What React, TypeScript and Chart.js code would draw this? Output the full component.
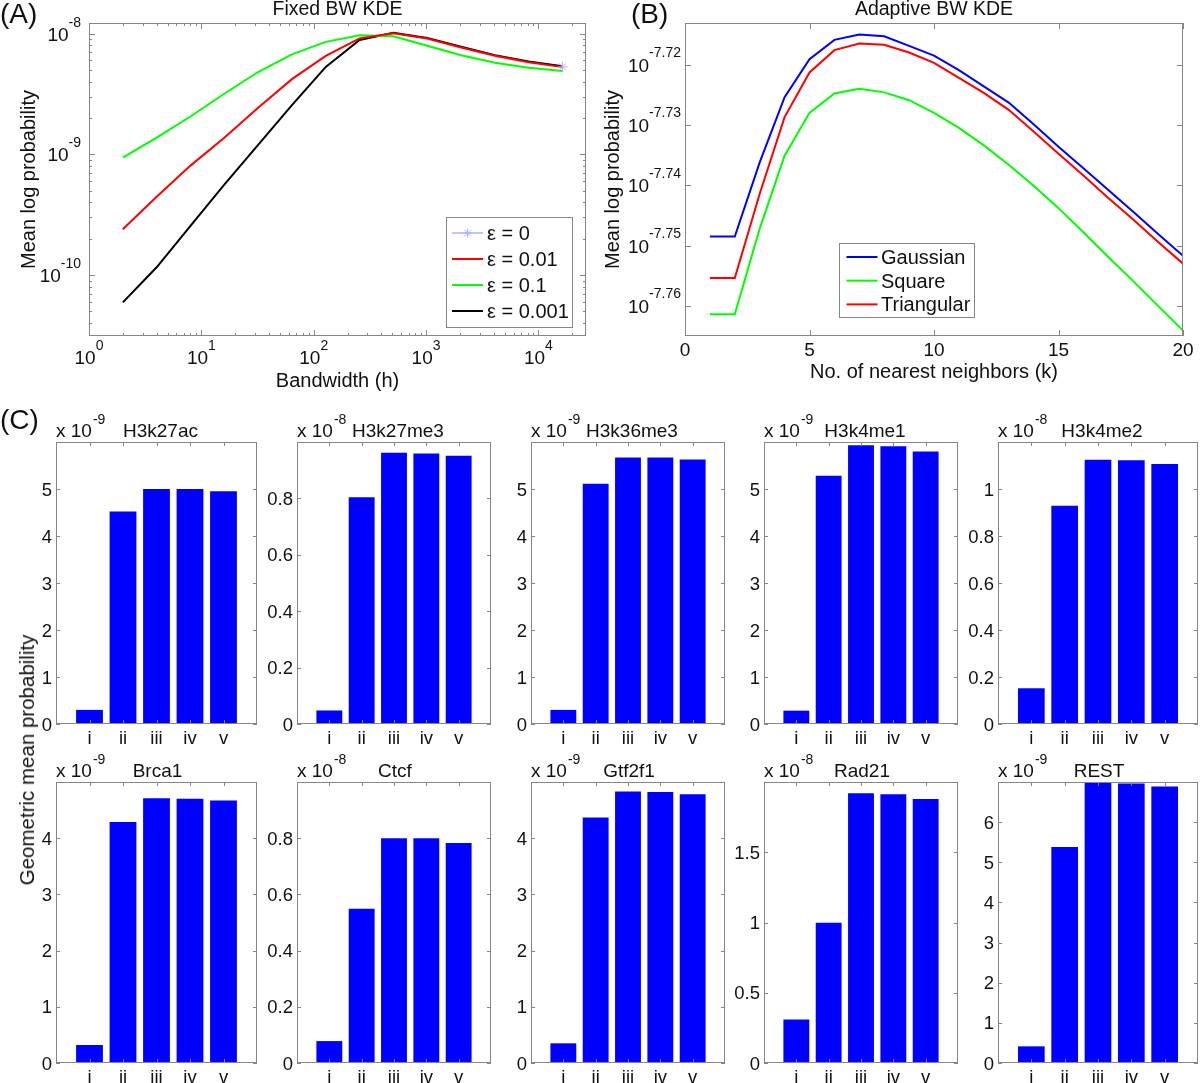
import React, { useEffect, useRef } from 'react';
import { Chart, registerables } from 'chart.js';

Chart.register(...registerables);

const FONT_FAMILY = '"Liberation Sans", Arial, Helvetica, sans-serif';
const AXIS_COLOR = '#868686';
const TEXT_COLOR = '#111111';

// ---------------- Panel A data (Fixed BW KDE) ----------------
const aBandwidths = [2, 4, 8, 16, 32, 64, 128, 256, 512, 1024, 2048, 4096, 8192, 16384];
const aEps0Bandwidths = [16384];
const aEps0Values = [5.3e-9];
const aEps001Values = [2.4e-10, 4.45e-10, 8.07e-10, 1.37e-9, 2.43e-9, 4.2e-9, 6.55e-9, 9.14e-9, 1.009e-8, 9.12e-9, 7.69e-9, 6.56e-9, 5.79e-9, 5.28e-9];
const aEps01Values = [9.38e-10, 1.374e-9, 2.06e-9, 3.18e-9, 4.81e-9, 6.73e-9, 8.55e-9, 9.7e-9, 9.53e-9, 7.94e-9, 6.62e-9, 5.75e-9, 5.22e-9, 4.9e-9];
const aEps0001Values = [5.94e-11, 1.16e-10, 2.56e-10, 5.62e-10, 1.2e-9, 2.56e-9, 5.3e-9, 8.85e-9, 1.016e-8, 9.2e-9, 7.8e-9, 6.64e-9, 5.87e-9, 5.37e-9];
const aLegendLabels = ['ε = 0', 'ε = 0.01', 'ε = 0.1', 'ε = 0.001'];
const aXTicks = [1, 10, 100, 1000, 10000];
const aXTickExponents = ['0', '1', '2', '3', '4'];
const aYTicks = [1e-10, 1e-9, 1e-8];
const aYTickExponents = ['-10', '-9', '-8'];
const aXRange = [1, 26500];
const aYRange = [3.13e-11, 1.225e-8];
const aTitle = 'Fixed BW KDE';
const aXLabel = 'Bandwidth (h)';
const aYLabel = 'Mean log probability';

// ---------------- Panel B data (Adaptive BW KDE), log10 of probability ----------------
const bNeighbors = [1, 2, 3, 4, 5, 6, 7, 8, 9, 10, 11, 12, 13, 14, 15, 16, 17, 18, 19, 20];
const bGaussianLog10 = [-7.7485, -7.7485, -7.7362, -7.7254, -7.7191, -7.7159, -7.715, -7.7153, -7.7169, -7.7185, -7.7209, -7.7236, -7.7263, -7.7299, -7.7336, -7.7372, -7.7408, -7.7444, -7.7481, -7.7517];
const bSquareLog10 = [-7.7614, -7.7614, -7.7472, -7.7351, -7.728, -7.7248, -7.724, -7.7246, -7.7259, -7.728, -7.7305, -7.7334, -7.7366, -7.7401, -7.7438, -7.7478, -7.7519, -7.7559, -7.76, -7.7641];
const bTriangularLog10 = [-7.7554, -7.7554, -7.7414, -7.7287, -7.7213, -7.7176, -7.7165, -7.7167, -7.718, -7.7197, -7.7222, -7.7247, -7.7275, -7.7311, -7.7348, -7.7384, -7.7421, -7.7457, -7.7494, -7.753];
const bLegendLabels = ['Gaussian', 'Square', 'Triangular'];
const bXTicks = [0, 5, 10, 15, 20];
const bYTicks = [-7.76, -7.75, -7.74, -7.73, -7.72];
const bYTickExponents = ['-7.76', '-7.75', '-7.74', '-7.73', '-7.72'];
const bXRange = [0, 20];
const bYRange = [-7.765, -7.7131];
const bTitle = 'Adaptive BW KDE';
const bXLabel = 'No. of nearest neighbors (k)';
const bYLabel = 'Mean log probability';

// ---------------- Panel C data (bar charts) ----------------
const cCategories = ['i', 'ii', 'iii', 'iv', 'v'];
const cPositions = [1, 2, 3, 4, 5];
const cNames = ['H3k27ac', 'H3k27me3', 'H3k36me3', 'H3k4me1', 'H3k4me2', 'Brca1', 'Ctcf', 'Gtf2f1', 'Rad21', 'REST'];
const cExponents = ['-9', '-8', '-9', '-9', '-8', '-9', '-8', '-9', '-8', '-9'];
const h3k27acValues = [0.3, 4.52, 5.0, 5.0, 4.95];
const h3k27me3Values = [0.048, 0.804, 0.962, 0.959, 0.951];
const h3k36me3Values = [0.3, 5.11, 5.67, 5.67, 5.63];
const h3k4me1Values = [0.284, 5.28, 5.93, 5.91, 5.8];
const h3k4me2Values = [0.152, 0.929, 1.125, 1.122, 1.106];
const brca1Values = [0.32, 4.29, 4.71, 4.7, 4.67];
const ctcfValues = [0.078, 0.549, 0.8, 0.8, 0.783];
const gtf2f1Values = [0.35, 4.37, 4.83, 4.82, 4.78];
const rad21Values = [0.31, 0.998, 1.92, 1.912, 1.879];
const restValues = [0.415, 5.38, 6.99, 6.96, 6.89];
const cValues = [h3k27acValues, h3k27me3Values, h3k36me3Values, h3k4me1Values, h3k4me2Values, brca1Values, ctcfValues, gtf2f1Values, rad21Values, restValues];
const cYTicks = [
  [0, 1, 2, 3, 4, 5],
  [0, 0.2, 0.4, 0.6, 0.8],
  [0, 1, 2, 3, 4, 5],
  [0, 1, 2, 3, 4, 5],
  [0, 0.2, 0.4, 0.6, 0.8, 1],
  [0, 1, 2, 3, 4],
  [0, 0.2, 0.4, 0.6, 0.8],
  [0, 1, 2, 3, 4],
  [0, 0.5, 1, 1.5],
  [0, 1, 2, 3, 4, 5, 6],
];
const cYMax = [6, 1, 6, 6, 1.2, 5, 1, 5, 2, 7];
const cYLabel = 'Geometric mean probability';

// ---------------- Layout (page pixels) ----------------
const A_CANVAS = { left: 0, top: 0, width: 600, height: 400 };
const A_BOX = { left: 89, top: 23, right: 586, bottom: 336 };
const B_CANVAS = { left: 600, top: 0, width: 600, height: 400 };
const B_BOX = { left: 685, top: 23, right: 1183, bottom: 336 };
const C_COLUMNS = [[56, 257], [297, 491], [531, 725], [764, 958], [998, 1198]];
const C_ROWS = [[442, 724], [782, 1063]];

function paddingFor(canvas: any, box: any) {
  return {
    left: box.left - canvas.left,
    top: box.top - canvas.top,
    right: canvas.left + canvas.width - box.right,
    bottom: canvas.top + canvas.height - box.bottom,
  };
}

function font(size: number) {
  return `${size}px ${FONT_FAMILY}`;
}

function strokeFrame(ctx: any, a: any) {
  const l = Math.round(a.left) + 0.5;
  const t = Math.round(a.top) + 0.5;
  const r = Math.round(a.right) - 0.5;
  const b = Math.round(a.bottom) - 0.5;
  ctx.strokeStyle = AXIS_COLOR;
  ctx.lineWidth = 1;
  ctx.strokeRect(l, t, r - l, b - t);
}

function tickMarksX(ctx: any, scale: any, a: any, values: number[], len: number) {
  ctx.strokeStyle = AXIS_COLOR;
  ctx.lineWidth = 1;
  ctx.beginPath();
  values.forEach((v) => {
    const p = Math.round(scale.getPixelForValue(v)) + 0.5;
    ctx.moveTo(p, a.bottom);
    ctx.lineTo(p, a.bottom - len);
    ctx.moveTo(p, a.top);
    ctx.lineTo(p, a.top + len);
  });
  ctx.stroke();
}

function tickMarksY(ctx: any, scale: any, a: any, values: number[], len: number) {
  ctx.strokeStyle = AXIS_COLOR;
  ctx.lineWidth = 1;
  ctx.beginPath();
  values.forEach((v) => {
    const p = Math.round(scale.getPixelForValue(v)) + 0.5;
    ctx.moveTo(a.left, p);
    ctx.lineTo(a.left + len, p);
    ctx.moveTo(a.right, p);
    ctx.lineTo(a.right - len, p);
  });
  ctx.stroke();
}

function drawPower(ctx: any, exponent: string, x: number, baseline: number, align: string, baseSize: number, supSize: number, raise: number) {
  ctx.font = font(baseSize);
  const wb = ctx.measureText('10').width;
  ctx.font = font(supSize);
  const ws = ctx.measureText(exponent).width;
  const total = wb + ws;
  const x0 = align === 'center' ? x - total / 2 : x - total;
  ctx.fillStyle = TEXT_COLOR;
  ctx.textAlign = 'left';
  ctx.textBaseline = 'alphabetic';
  ctx.font = font(baseSize);
  ctx.fillText('10', x0, baseline);
  ctx.font = font(supSize);
  ctx.fillText(exponent, x0 + wb, baseline - raise);
}

function drawText(ctx: any, s: string, x: number, y: number, size: number, align: string) {
  ctx.fillStyle = TEXT_COLOR;
  ctx.font = font(size);
  ctx.textAlign = align;
  ctx.textBaseline = 'alphabetic';
  ctx.fillText(s, x, y);
}

function drawRotated(ctx: any, s: string, cx: number, cy: number, size: number) {
  ctx.save();
  ctx.translate(cx, cy);
  ctx.rotate(-Math.PI / 2);
  ctx.fillStyle = TEXT_COLOR;
  ctx.font = font(size);
  ctx.textAlign = 'center';
  ctx.textBaseline = 'middle';
  ctx.fillText(s, 0, 0);
  ctx.restore();
}

function drawStar(ctx: any, x: number, y: number, r: number, color: string) {
  ctx.strokeStyle = color;
  ctx.lineWidth = 1;
  ctx.beginPath();
  for (let k = 0; k < 4; k++) {
    const ang = (k * Math.PI) / 4;
    ctx.moveTo(x - r * Math.cos(ang), y - r * Math.sin(ang));
    ctx.lineTo(x + r * Math.cos(ang), y + r * Math.sin(ang));
  }
  ctx.stroke();
}

function drawLegend(ctx: any, chart: any, L: any) {
  ctx.fillStyle = '#ffffff';
  ctx.fillRect(L.left, L.top, L.right - L.left, L.bottom - L.top);
  ctx.strokeStyle = AXIS_COLOR;
  ctx.lineWidth = 1;
  ctx.strokeRect(Math.round(L.left) + 0.5, Math.round(L.top) + 0.5, Math.round(L.right - L.left), Math.round(L.bottom - L.top));
  chart.data.datasets.forEach((ds: any, i: number) => {
    const y = L.firstRow + i * L.rowStep;
    ctx.strokeStyle = ds.borderColor;
    ctx.lineWidth = ds.legendLineWidth || 2;
    ctx.beginPath();
    ctx.moveTo(L.lineStart, y);
    ctx.lineTo(L.lineEnd, y);
    ctx.stroke();
    if (ds.pointStyle === 'star') drawStar(ctx, (L.lineStart + L.lineEnd) / 2, y, 4.5, ds.borderColor);
    drawText(ctx, ds.label, L.textX, y + 7, L.fontSize, 'left');
  });
}

// ---------------- Panel A ----------------
const A_LEGEND = { left: 446, top: 217, right: 572, bottom: 327, firstRow: 233, rowStep: 26, lineStart: 452, lineEnd: 483, textX: 487, fontSize: 20 };

function drawPanelA(chart: any) {
  const ctx = chart.ctx;
  const a = chart.chartArea;
  const xs = chart.scales.x;
  const ys = chart.scales.y;
  ctx.save();
  const xMinor: number[] = [];
  for (let d = 1; d <= 10000; d *= 10) for (let m = 2; m <= 9; m++) if (d * m < xs.max) xMinor.push(d * m);
  const yMinor: number[] = [];
  for (let e = -11; e <= -9; e++) for (let m = 2; m <= 9; m++) {
    const v = m * Math.pow(10, e);
    if (v > ys.min && v < ys.max) yMinor.push(v);
  }
  tickMarksX(ctx, xs, a, aXTicks, 6);
  tickMarksX(ctx, xs, a, xMinor, 3);
  tickMarksY(ctx, ys, a, aYTicks, 6);
  tickMarksY(ctx, ys, a, yMinor, 3);
  strokeFrame(ctx, a);
  aXTicks.forEach((v, i) => drawPower(ctx, aXTickExponents[i], xs.getPixelForValue(v), a.bottom + 28, 'center', 19, 14, 14));
  aYTicks.forEach((v, i) => drawPower(ctx, aYTickExponents[i], a.left - 8, ys.getPixelForValue(v) + 7, 'right', 19, 14, 14));
  drawText(ctx, aTitle, (a.left + a.right) / 2, 15, 19.5, 'center');
  drawText(ctx, aXLabel, (a.left + a.right) / 2, 386.5, 20, 'center');
  drawRotated(ctx, aYLabel, 29, (a.top + a.bottom) / 2, 20);
  drawLegend(ctx, chart, A_LEGEND);
  ctx.restore();
}

function buildPanelA() {
  return {
    type: 'line',
    data: {
      datasets: [
        {
          label: aLegendLabels[0],
          data: aEps0Bandwidths.map((x, i) => ({ x, y: aEps0Values[i] })),
          borderColor: '#aeb0ff',
          backgroundColor: '#aeb0ff',
          borderWidth: 1,
          legendLineWidth: 1.5,
          pointStyle: 'star',
          pointRadius: 5,
          pointBorderWidth: 1,
          pointBorderColor: '#aeb0ff',
        },
        { label: aLegendLabels[1], data: aBandwidths.map((x, i) => ({ x, y: aEps001Values[i] })), borderColor: '#ff0000', borderWidth: 2, pointRadius: 0 },
        { label: aLegendLabels[2], data: aBandwidths.map((x, i) => ({ x, y: aEps01Values[i] })), borderColor: '#00ff00', borderWidth: 2, pointRadius: 0 },
        { label: aLegendLabels[3], data: aBandwidths.map((x, i) => ({ x, y: aEps0001Values[i] })), borderColor: '#000000', borderWidth: 2, pointRadius: 0 },
      ],
    },
    options: {
      responsive: false,
      animation: false,
      devicePixelRatio: 1,
      events: [],
      layout: { padding: paddingFor(A_CANVAS, A_BOX) },
      plugins: { legend: { display: false }, tooltip: { enabled: false } },
      elements: { line: { tension: 0 } },
      scales: {
        x: { type: 'logarithmic', min: aXRange[0], max: aXRange[1], display: false },
        y: { type: 'logarithmic', min: aYRange[0], max: aYRange[1], display: false },
      },
    },
    plugins: [{ id: 'panelA', afterDatasetsDraw: (chart: any) => drawPanelA(chart) }],
  };
}

// ---------------- Panel B ----------------
const B_LEGEND = { left: 239, top: 243, right: 374, bottom: 317, firstRow: 257, rowStep: 23.7, lineStart: 246.5, lineEnd: 277.5, textX: 281, fontSize: 20 };

function drawPanelB(chart: any) {
  const ctx = chart.ctx;
  const a = chart.chartArea;
  const xs = chart.scales.x;
  const ys = chart.scales.y;
  ctx.save();
  tickMarksX(ctx, xs, a, bXTicks, 6);
  tickMarksY(ctx, ys, a, bYTicks, 6);
  strokeFrame(ctx, a);
  bXTicks.forEach((v) => drawText(ctx, String(v), xs.getPixelForValue(v), a.bottom + 20, 19, 'center'));
  bYTicks.forEach((v, i) => drawPower(ctx, bYTickExponents[i], a.left - 4, ys.getPixelForValue(v) + 7, 'right', 19, 14, 14.5));
  drawText(ctx, bTitle, (a.left + a.right) / 2, 15, 19.5, 'center');
  drawText(ctx, bXLabel, (a.left + a.right) / 2, 378, 20, 'center');
  drawRotated(ctx, bYLabel, 13.5, (a.top + a.bottom) / 2, 20);
  drawLegend(ctx, chart, B_LEGEND);
  ctx.restore();
}

function buildPanelB() {
  return {
    type: 'line',
    data: {
      datasets: [
        { label: bLegendLabels[0], data: bNeighbors.map((x, i) => ({ x, y: bGaussianLog10[i] })), borderColor: '#0000ff', borderWidth: 2, pointRadius: 0 },
        { label: bLegendLabels[1], data: bNeighbors.map((x, i) => ({ x, y: bSquareLog10[i] })), borderColor: '#00ff00', borderWidth: 2, pointRadius: 0 },
        { label: bLegendLabels[2], data: bNeighbors.map((x, i) => ({ x, y: bTriangularLog10[i] })), borderColor: '#ff0000', borderWidth: 2, pointRadius: 0 },
      ],
    },
    options: {
      responsive: false,
      animation: false,
      devicePixelRatio: 1,
      events: [],
      layout: { padding: paddingFor(B_CANVAS, B_BOX) },
      plugins: { legend: { display: false }, tooltip: { enabled: false } },
      elements: { line: { tension: 0 } },
      scales: {
        x: { type: 'linear', min: bXRange[0], max: bXRange[1], display: false },
        y: { type: 'linear', min: bYRange[0], max: bYRange[1], display: false },
      },
    },
    plugins: [{ id: 'panelB', afterDatasetsDraw: (chart: any) => drawPanelB(chart) }],
  };
}

// ---------------- Panel C (bars) ----------------
const BAR_PAD = { left: 45, top: 40, right: 4, bottom: 26 };

function barBox(k: number) {
  const row = Math.floor(k / 5);
  const col = k % 5;
  return { left: C_COLUMNS[col][0], right: C_COLUMNS[col][1], top: C_ROWS[row][0], bottom: C_ROWS[row][1] };
}

function barCanvas(k: number) {
  const b = barBox(k);
  return {
    left: b.left - BAR_PAD.left,
    top: b.top - BAR_PAD.top,
    width: b.right - b.left + BAR_PAD.left + BAR_PAD.right,
    height: b.bottom - b.top + BAR_PAD.top + BAR_PAD.bottom,
  };
}

function formatTick(v: number) {
  return String(Number(v.toFixed(2)));
}

function drawBarPanel(chart: any, k: number) {
  const ctx = chart.ctx;
  const a = chart.chartArea;
  const xs = chart.scales.x;
  const ys = chart.scales.y;
  const row = Math.floor(k / 5);
  ctx.save();
  tickMarksX(ctx, xs, a, cPositions, 4);
  tickMarksY(ctx, ys, a, cYTicks[k], 4);
  strokeFrame(ctx, a);
  cYTicks[k].forEach((v) => drawText(ctx, formatTick(v), a.left - 4, ys.getPixelForValue(v) + 6.5, 18.5, 'right'));
  cCategories.forEach((c, i) => drawText(ctx, c, xs.getPixelForValue(cPositions[i]), a.bottom + 20, 18.5, 'center'));
  const base = a.top - 5;
  drawText(ctx, 'x 10', a.left, base, 19, 'left');
  ctx.font = font(19);
  const w = ctx.measureText('x 10').width;
  drawText(ctx, cExponents[k], a.left + w + 1, base - 13.5, 14, 'left');
  drawText(ctx, cNames[k], (a.left + a.right) / 2 + (row === 0 ? 4 : 1), base, 19, 'center');
  ctx.restore();
}

function buildBarPanel(k: number) {
  const canvas = barCanvas(k);
  const box = barBox(k);
  return {
    type: 'bar',
    data: {
      datasets: [
        {
          label: cNames[k],
          data: cPositions.map((x, i) => ({ x, y: cValues[k][i] })),
          backgroundColor: '#0000ff',
          borderWidth: 0,
          barPercentage: 0.8,
          categoryPercentage: 1,
        },
      ],
    },
    options: {
      responsive: false,
      animation: false,
      devicePixelRatio: 1,
      events: [],
      layout: { padding: paddingFor(canvas, box) },
      plugins: { legend: { display: false }, tooltip: { enabled: false } },
      scales: {
        x: { type: 'linear', min: 0, max: 6, offset: false, ticks: { stepSize: 1 }, display: false },
        y: { type: 'linear', min: 0, max: cYMax[k], display: false },
      },
    },
    plugins: [{ id: 'barPanel' + k, afterDatasetsDraw: (chart: any) => drawBarPanel(chart, k) }],
  };
}

function ChartCanvas(props: { left: number; top: number; width: number; height: number; build: () => any }) {
  const ref = useRef<HTMLCanvasElement | null>(null);
  useEffect(() => {
    if (!ref.current) return;
    const chart = new Chart(ref.current, props.build());
    return () => chart.destroy();
  }, []);
  return (
    <canvas
      ref={ref}
      width={props.width}
      height={props.height}
      style={{ position: 'absolute', left: props.left, top: props.top, width: props.width, height: props.height }}
    />
  );
}

const panelLabelStyle = (left: number, top: number): any => ({
  position: 'absolute',
  left,
  top,
  fontFamily: FONT_FAMILY,
  fontSize: 28,
  lineHeight: '28px',
  color: TEXT_COLOR,
  whiteSpace: 'nowrap',
});

export default function App() {
  return (
    <div style={{ position: 'absolute', left: 0, top: 0, width: 1200, height: 1083, overflow: 'hidden', background: '#ffffff' }}>
      <ChartCanvas {...A_CANVAS} build={buildPanelA} />
      <ChartCanvas {...B_CANVAS} build={buildPanelB} />
      {cNames.map((_, k) => {
        const c = barCanvas(k);
        return <ChartCanvas key={k} {...c} build={() => buildBarPanel(k)} />;
      })}
      <span style={panelLabelStyle(0, 0)}>(A)</span>
      <span style={panelLabelStyle(631, 0)}>(B)</span>
      <span style={panelLabelStyle(0, 406)}>(C)</span>
      <div
        style={{
          position: 'absolute',
          left: 27,
          top: 760,
          transform: 'translate(-50%, -50%) rotate(-90deg)',
          fontFamily: FONT_FAMILY,
          fontSize: 20.5,
          lineHeight: '20px',
          color: TEXT_COLOR,
          whiteSpace: 'nowrap',
        }}
      >
        {cYLabel}
      </div>
    </div>
  );
}
